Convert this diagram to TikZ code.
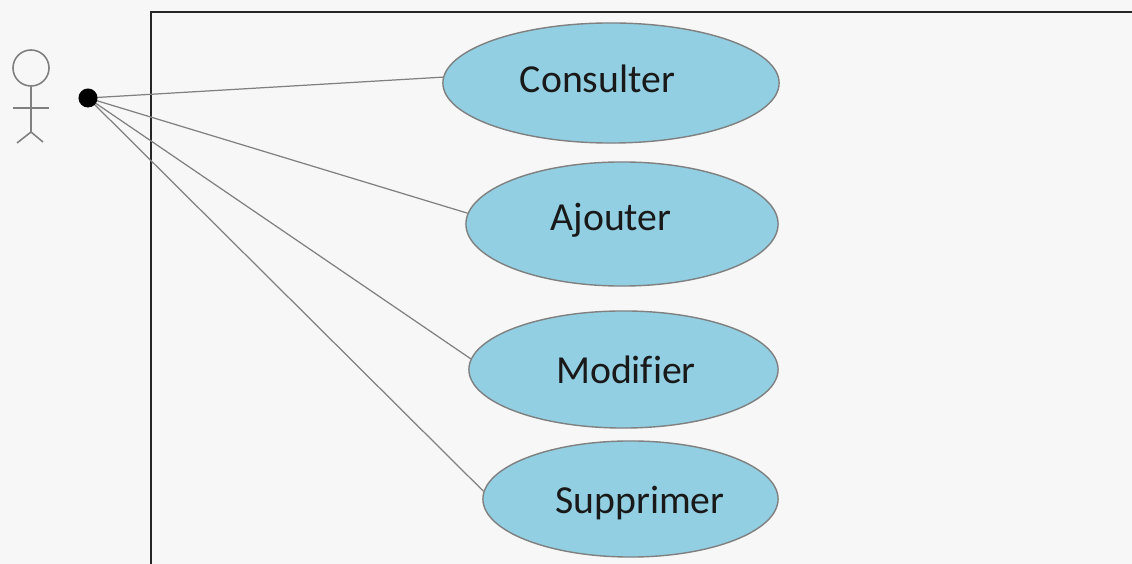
\documentclass[tikz,border=0pt]{standalone}
\usepackage{fontspec}
\setmainfont[Ligatures=NoCommon]{Carlito}
\usetikzlibrary{shapes.geometric, positioning}
\definecolor{fondgris}{HTML}{F7F7F7}
\definecolor{bleucas}{HTML}{92CFE2}
\definecolor{traitgris}{HTML}{808080}
\tikzset{
  usecase/.style={ellipse, draw=traitgris, fill=bleucas, line width=0.4pt, inner sep=0pt},
  usetext/.style={inner sep=0pt, text=black!90, font=\fontsize{11.3}{14}\selectfont},
  lien/.style={draw=traitgris, line width=0.35pt},
  acteur/.style={draw=traitgris, line width=0.45pt}
}
\begin{document}
\begin{tikzpicture}[x=0.01cm,y=-0.01cm]

            % Fond et cadre
            \fill[fondgris] (0,0) rectangle (1132,564);
            \useasboundingbox (0,0) rectangle (1132,564);
            \draw[line width=0.85pt, black!85] (151,564) -- (151,12) -- (1132,12);

            % Acteur
            \node[circle, acteur, minimum size=0.36cm, inner sep=0pt] (tete) at (31,68) {};
            \coordinate (bassin) at (31,132);
            \draw[acteur] (tete.south) -- (bassin);
            \draw[acteur] (13,108) -- (49,108);
            \draw[acteur] (bassin) -- (17,143);
            \draw[acteur] (bassin) -- (43,142);

            % Cas d'utilisation
            \node[usecase, minimum width=3.36cm, minimum height=1.20cm] (consulter) at (611,83) {};
            \node[usecase, minimum width=3.12cm, minimum height=1.24cm] (ajouter) at (622,224) {};
            \node[usecase, minimum width=3.09cm, minimum height=1.17cm] (modifier) at (623.5,369.5) {};
            \node[usecase, minimum width=2.95cm, minimum height=1.16cm] (supprimer) at (630.5,499) {};

            % Textes
            \node[usetext] (tconsulter) at (597.5,79) {Consulter};
            \node[usetext] (tajouter) at (611,220) {Ajouter};
            \node[usetext] (tmodifier) at (626,370) {Modifier};
            \node[usetext] (tsupprimer) at (640,503) {Supprimer};

            % Point de depart des liens
            \coordinate (depart) at (88,98);

            % Liens
            \draw[lien] (depart) -- (consulter.178);
            \draw[lien] (depart) -- (ajouter.176);
            \draw[lien] (depart) -- (modifier.176);
            \draw[lien] (depart) -- (supprimer.177);

            \node[circle, fill=black, minimum size=0.19cm, inner sep=0pt] (point) at (depart) {};

\end{tikzpicture}
\end{document}
